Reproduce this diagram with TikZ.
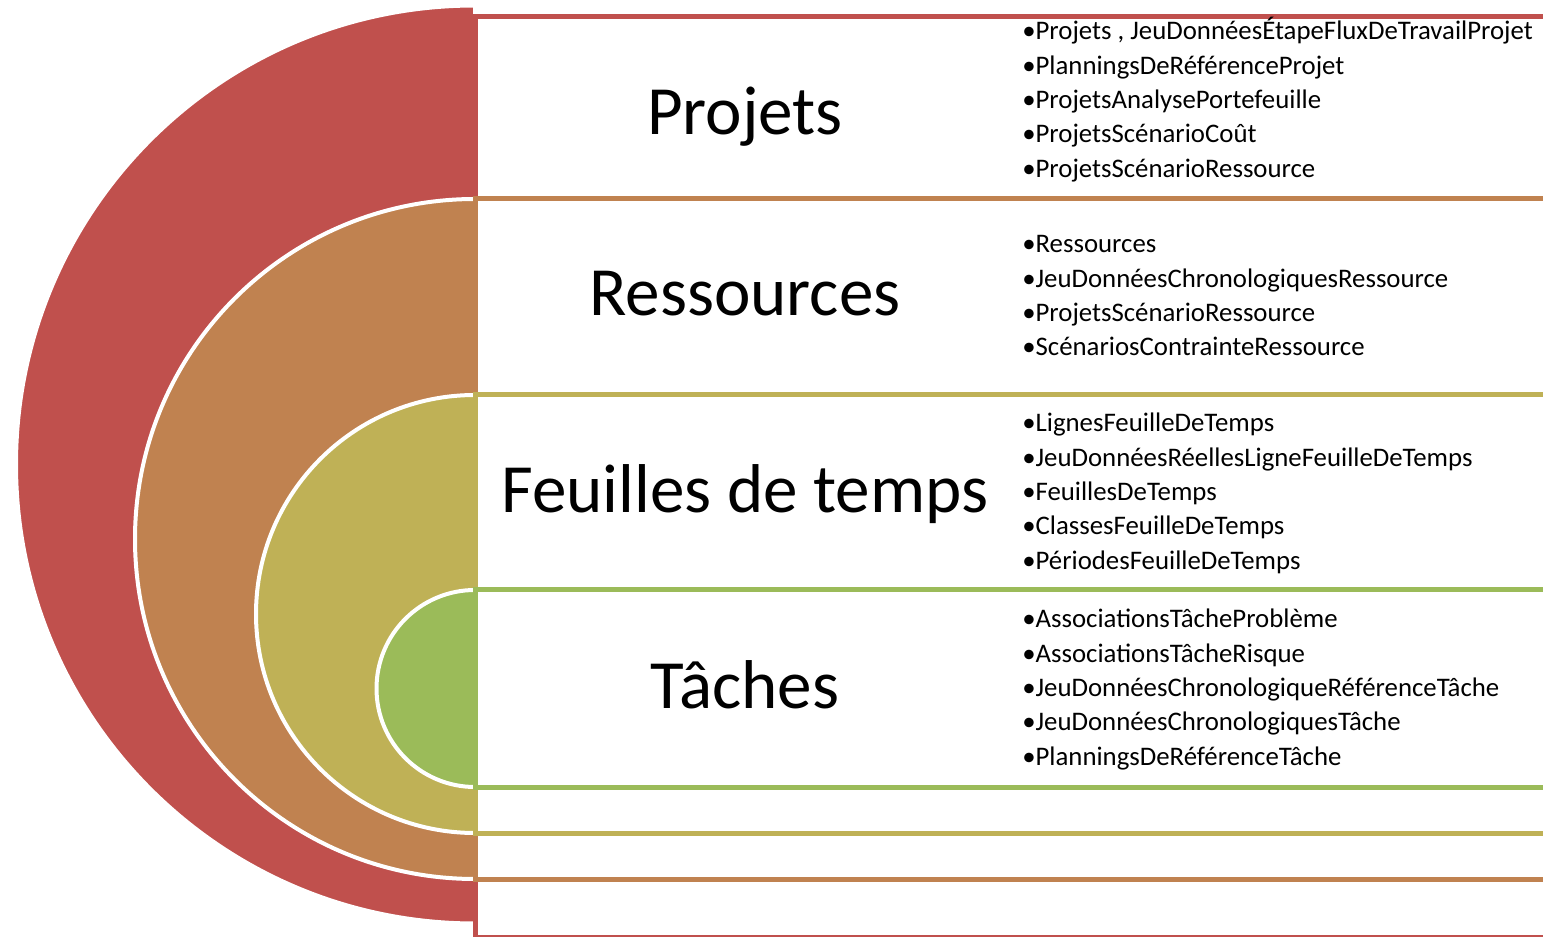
\documentclass[tikz,border=0pt]{standalone}
\usepackage{fontspec}
\setmainfont{Carlito}
\definecolor{projRed}{RGB}{192,80,77}
\definecolor{resBrown}{RGB}{192,130,80}
\definecolor{feuOlive}{RGB}{191,177,86}
\definecolor{tacGreen}{RGB}{155,187,89}
\tikzset{
  halfdisk/.style={draw=white, line width=3pt, fill=#1},
  band/.style={draw=#1, line width=3.75pt, fill=white},
  titre/.style={anchor=base, inner sep=0.75pt, font=\fontsize{51.8}{60}\selectfont},
  puce/.style={anchor=base west, inner sep=0pt, font=\fontsize{20.1}{24}\selectfont},
}

\begin{document}
\begin{tikzpicture}[x=0.75pt,y=0.75pt,yscale=-1,xscale=1]
\useasboundingbox (0,0) rectangle (1543,937);
\clip (0,0) rectangle (1543,937);

%Shape: Half Circle [Projets]
\draw [halfdisk=projRed] (475,5.5) arc (270:90:459) -- cycle ;
%Shape: Half Circle [Ressources]
\draw [halfdisk=resBrown] (475,199) arc (270:90:340) -- cycle ;
%Shape: Half Circle [Feuilles de temps]
\draw [halfdisk=feuOlive] (475,395) arc (270:90:219) -- cycle ;
%Shape: Half Circle [Taches]
\draw [halfdisk=tacGreen] (475,590) arc (270:90:98.5) -- cycle ;

%Shape: Rectangle [Projets]
\draw [band=projRed] (475.5,16.5) rectangle (1600,937.5) ;
%Shape: Rectangle [Ressources]
\draw [band=resBrown] (475.5,199) rectangle (1600,879) ;
%Shape: Rectangle [Feuilles de temps]
\draw [band=feuOlive] (475.5,395) rectangle (1600,833) ;
%Shape: Rectangle [Taches]
\draw [band=tacGreen] (475.5,590) rectangle (1600,787) ;

% Text Node
\draw (745,135) node [titre] (tProjets) {Projets};
% Text Node
\draw (745,316) node [titre] (tRessources) {Ressources};
% Text Node
\draw (745,513) node [titre] (tFeuilles) {Feuilles de temps};
% Text Node
\draw (745,708) node [titre] (tTaches) {Tâches};

% Text Node
\draw (1022,40) node [puce] (p1) {•Projets , JeuDonnéesÉtapeFluxDeTravailProjet};
% Text Node
\draw (1022,74.3) node [puce] (p2) {•PlanningsDeRéférenceProjet};
% Text Node
\draw (1022,108.6) node [puce] (p3) {•ProjetsAnalysePortefeuille};
% Text Node
\draw (1022,142.9) node [puce] (p4) {•ProjetsScénarioCoût};
% Text Node
\draw (1022,177.2) node [puce] (p5) {•ProjetsScénarioRessource};

% Text Node
\draw (1022,253) node [puce] (r1) {•Ressources};
% Text Node
\draw (1022,287.3) node [puce] (r2) {•JeuDonnéesChronologiquesRessource};
% Text Node
\draw (1022,321.6) node [puce] (r3) {•ProjetsScénarioRessource};
% Text Node
\draw (1022,355.9) node [puce] (r4) {•ScénariosContrainteRessource};

% Text Node
\draw (1022,432) node [puce] (f1) {•LignesFeuilleDeTemps};
% Text Node
\draw (1022,466.3) node [puce] (f2) {•JeuDonnéesRéellesLigneFeuilleDeTemps};
% Text Node
\draw (1022,500.6) node [puce] (f3) {•FeuillesDeTemps};
% Text Node
\draw (1022,534.9) node [puce] (f4) {•ClassesFeuilleDeTemps};
% Text Node
\draw (1022,569.2) node [puce] (f5) {•PériodesFeuilleDeTemps};

% Text Node
\draw (1022,628) node [puce] (t1) {•AssociationsTâcheProblème};
% Text Node
\draw (1022,662.3) node [puce] (t2) {•AssociationsTâcheRisque};
% Text Node
\draw (1022,696.6) node [puce] (t3) {•JeuDonnéesChronologiqueRéférenceTâche};
% Text Node
\draw (1022,730.9) node [puce] (t4) {•JeuDonnéesChronologiquesTâche};
% Text Node
\draw (1022,765.2) node [puce] (t5) {•PlanningsDeRéférenceTâche};

\end{tikzpicture}
\end{document}
